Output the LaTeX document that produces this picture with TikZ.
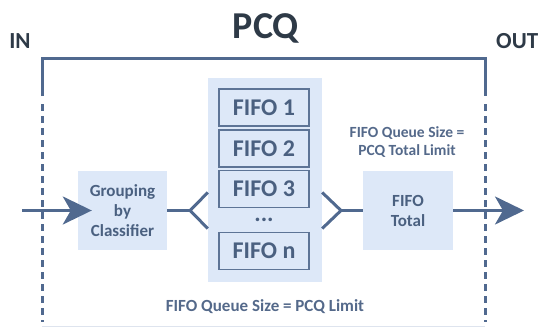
\documentclass[tikz,border=0pt]{standalone}
\usepackage{fontspec}
\setmainfont{Carlito}
\usetikzlibrary{arrows.meta}

\definecolor{pcqline}{RGB}{80,105,143}
\definecolor{pcqdark}{RGB}{46,58,71}
\definecolor{pcqtext}{RGB}{74,96,128}
\definecolor{pcqnote}{RGB}{84,105,138}
\definecolor{pcqfill}{RGB}{221,232,248}
\definecolor{pcqedge}{RGB}{93,116,150}
\definecolor{pcqfaint}{RGB}{222,228,238}

\tikzset{
  box/.style={fill=pcqfill, text=pcqtext, align=center, inner sep=0pt,
    font=\bfseries\fontsize{17}{20}\selectfont},
  fifo/.style={draw=pcqedge, line width=1.5pt, fill=pcqfill,
    minimum width=90pt, minimum height=37pt, text=pcqtext,
    font=\bfseries\fontsize{24}{28}\selectfont},
  note/.style={text=pcqnote, align=center,
    font=\bfseries\fontsize{15.5}{18.5}\selectfont},
  link/.style={pcqline, line width=3pt},
  flow/.style={link, -{Stealth[length=29pt,width=28pt,inset=8pt]}},
}

\begin{document}
\begin{tikzpicture}[x=1pt,y=-1pt]
    \useasboundingbox (0,0) rectangle (541,327);

    % Titres
    \node[text=pcqdark, font=\bfseries\fontsize{38}{40}\selectfont, anchor=base] (pcq) at (266,38) {PCQ};
    \node[text=pcqdark, font=\bfseries\fontsize{23}{26}\selectfont, anchor=base] (in) at (20,48) {IN};
    \node[text=pcqdark, font=\bfseries\fontsize{23}{26}\selectfont, anchor=base west, inner sep=0pt] (out) at (496,48) {OUT};

    % Cadre PCQ
    \draw[link] (42,96) |- (485,58) -- (485,96);
    \draw[link, dash pattern=on 7pt off 5pt] (42,104) -- (42,322);
    \draw[link, dash pattern=on 7pt off 5pt] (485,104) -- (485,322);
    \draw[pcqfaint, line width=1pt] (42,326) -- (485,326);

    % Classement et files
    \node[box, minimum width=89pt, minimum height=79pt] (group) at (122.5,210.5) {Grouping\\by\\Classifier};
    \node[box, minimum width=114pt, minimum height=204pt] (queues) at (265,180) {};
    \foreach \i/\y in {1/107.5, 2/148.5, 3/189, n/251} {
        \node[fifo] (fifo\i) at (264,\y) {FIFO \i};
    }
    \node[text=pcqtext, font=\bfseries\fontsize{24}{28}\selectfont] (dots) at (264,220) {...};
    \node[box, minimum width=90pt, minimum height=79pt] (total) at (408,210.5) {FIFO\\Total};

    % Tailles
    \node[note] (totalnote) at (407,142) {FIFO Queue Size =\\PCQ Total Limit};
    \node[note, font=\bfseries\fontsize{17}{20}\selectfont, anchor=base] (limitnote) at (265,311) {FIFO Queue Size = PCQ Limit};

    % Liaisons
    \coordinate (inflow) at (22,210.5);
    \coordinate (outflow) at (524,210.5);
    \coordinate (fanL) at (190,210.5);
    \coordinate (fanR) at (341,210.5);
    \draw[flow] (inflow) -- ([xshift=14pt]group.west);
    \draw[link] (group.east) -- (fanL);
    \draw[link] ([yshift=18pt]queues.west |- fanL) -- (fanL) -- ([yshift=-18pt]queues.west |- fanL);
    \draw[link] ([yshift=18pt]queues.east |- fanR) -- (fanR) -- ([yshift=-18pt]queues.east |- fanR);
    \draw[link] (fanR) -- (total.west);
    \draw[flow] (total.east) -- (outflow);
\end{tikzpicture}
\end{document}
